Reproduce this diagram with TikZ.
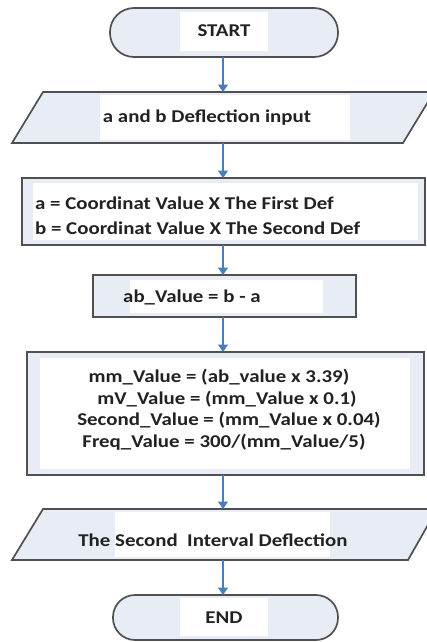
\documentclass[tikz,border=0pt]{standalone}
\usepackage{fontspec}
\setmainfont{Carlito}[FakeStretch=1.16]
\usetikzlibrary{arrows.meta}
\definecolor{fillc}{HTML}{E8EDF5}
\definecolor{edgec}{HTML}{505050}
\definecolor{arrc}{HTML}{4A7EBB}
\definecolor{txtc}{HTML}{222222}
\begin{document}
\begin{tikzpicture}[x=1pt,y=-1pt,
  shapebox/.style={draw=edgec,line width=1.7pt,fill=fillc},
  boxnode/.style={shapebox,rectangle,inner sep=0pt,outer sep=0pt},
  ghost/.style={rectangle,inner sep=0pt,outer sep=0pt,minimum width=40pt},
  lbl/.style={font=\bfseries\fontsize{18}{23}\selectfont,text=txtc,inner sep=0pt},
  patch/.style={fill=white},
  flow/.style={draw=arrc,line width=1.4pt,-{Triangle[length=7.5pt,width=10pt]}}]
\useasboundingbox (0,0) rectangle (426,642);

% START
\node[boxnode,rounded corners=24pt,minimum width=228pt,minimum height=49pt] (start) at (224,32.5) {};
\fill[patch] (180,12) rectangle (268,51);
\node[lbl] (startt) at (224,31) {START};

% input parallelogram
\path[shapebox] (43,92) -- (434,92) -- (403,143) -- (12,143) -- cycle;
\node[ghost,minimum height=51pt] (inp) at (223,117.5) {};
\fill[patch] (100,95) rectangle (350,140);
\node[lbl] (inpt) at (207,118) {a and b Deflection input};

% box 2
\node[boxnode,minimum width=403pt,minimum height=67pt] (coord) at (223.5,211.5) {};
\fill[patch] (33,183) rectangle (418,240);
\node[lbl,anchor=west] (coordt1) at (35,203) {a = Coordinat Value X The First Def};
\node[lbl,anchor=west] (coordt2) at (35,228) {b = Coordinat Value X The Second Def};

% box 3
\node[boxnode,minimum width=263pt,minimum height=42pt] (ab) at (224.5,296) {};
\fill[patch] (130,280) rectangle (323,313);
\node[lbl,anchor=west] (abt) at (123,297) {ab\_Value = b - a};

% box 4
\node[boxnode,minimum width=397pt,minimum height=123pt] (calc) at (225.5,413.5) {};
\fill[patch] (40,358) rectangle (410,469);
\node[lbl] (calc1) at (219,377) {mm\_Value = (ab\_value x 3.39)};
\node[lbl] (calc2) at (227,399) {mV\_Value = (mm\_Value x 0.1)};
\node[lbl] (calc3) at (229,420.5) {Second\_Value = (mm\_Value x 0.04)};
\node[lbl] (calc4) at (224,442) {Freq\_Value = 300/(mm\_Value/5)};

% output parallelogram
\path[shapebox] (43,509) -- (437,509) -- (408,560) -- (12,560) -- cycle;
\node[ghost,minimum height=51pt] (out) at (223,534.5) {};
\fill[patch] (115,512) rectangle (330,557);
\node[lbl] (outt) at (213,540) {The Second \ Interval Deflection};

% END
\node[boxnode,rounded corners=22pt,minimum width=225pt,minimum height=45pt] (end) at (225.5,617.5) {};
\fill[patch] (180,598) rectangle (268,636);
\node[lbl] (endt) at (224,618) {END};

% connectors
\draw[flow] (start.south -| inp) -- (inp.north);
\draw[flow] (inp.south) -- (inp.south |- coord.north);
\draw[flow] (inp.south |- coord.south) -- (inp.south |- ab.north);
\draw[flow] (inp.south |- ab.south) -- (inp.south |- calc.north);
\draw[flow] (inp.south |- calc.south) -- (out.north);
\draw[flow] (out.south) -- (out.south |- end.north);
\end{tikzpicture}
\end{document}
